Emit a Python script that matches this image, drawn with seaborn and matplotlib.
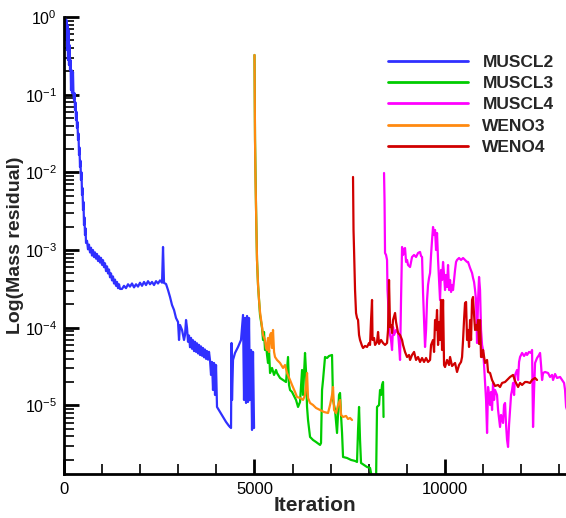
import numpy as np
import pandas as pd
import matplotlib
matplotlib.use("Agg")
import matplotlib.pyplot as plt
from matplotlib.ticker import FixedLocator, MultipleLocator, LogLocator, NullFormatter, FuncFormatter
from matplotlib.lines import Line2D
import seaborn as sns

# Convergence histories: iteration number and log10 of the mass residual
schemes = ["MUSCL2", "MUSCL3", "MUSCL4", "WENO3", "WENO4"]
colors = ["#3030ff", "#00cc00", "#ff00ff", "#ff8a10", "#d00000"]

muscl2_iter = [0, 26, 53, 66, 79, 92, 105, 118, 131, 144,
               158, 171, 184, 197, 210, 236, 249, 263, 276, 289,
               302, 315, 328, 341, 354, 368, 381, 394, 407, 420,
               433, 446, 460, 473, 486, 499, 512, 525, 538, 551,
               565, 578, 604, 630, 656, 683, 709, 735, 761, 788,
               814, 840, 866, 893, 919, 945, 971, 998, 1024, 1050,
               1076, 1103, 1129, 1155, 1181, 1208, 1234, 1260, 1286, 1313,
               1339, 1365, 1391, 1418, 1444, 1470,
               1522, 1575, 1627, 1680, 1733, 1785, 1838, 1890, 1943, 1995,
               2048, 2100, 2153, 2205, 2258, 2310, 2363, 2415, 2468, 2520,
               2573, 2599, 2625, 2678, 2730, 2783, 2835, 2888, 2940, 2993,
               3019, 3045, 3098, 3150, 3176, 3203, 3229, 3255, 3281, 3308,
               3334, 3360, 3386, 3413, 3439, 3465, 3491, 3518, 3544, 3570,
               3596, 3623, 3649, 3675, 3701, 3728, 3754, 3780, 3806, 3833,
               3859, 3885, 3911, 3938, 3964, 3990, 4016, 4095, 4174, 4253,
               4331, 4384, 4397, 4410, 4436, 4489, 4568, 4646, 4699, 4725,
               4751, 4778, 4804, 4830, 4856, 4883, 4909, 4935, 4961, 4988]
muscl2_log = [-0.02, 0.0, -0.296, -0.039, -0.425, -0.103, -0.553, -0.167, -0.618, -0.360,
              -0.682, -0.553, -0.940, -0.682, -0.978, -0.708, -1.004, -1.068, -0.98, -1.197,
              -1.10, -1.326, -1.22, -1.429, -1.35, -1.583, -1.50, -1.776, -1.68, -1.931,
              -1.85, -2.098, -2.00, -2.291, -2.20, -2.484, -2.38, -2.677, -2.58, -2.806,
              -2.72, -2.909, -2.88, -2.99, -2.93, -3.03, -2.97, -3.07, -3.00, -3.09,
              -3.03, -3.11, -3.05, -3.14, -3.08, -3.16, -3.10, -3.19, -3.13, -3.22,
              -3.17, -3.27, -3.21, -3.30, -3.25, -3.35, -3.30, -3.39, -3.34, -3.43,
              -3.38, -3.46, -3.41, -3.49, -3.44, -3.50,
              -3.500, -3.460, -3.490, -3.440, -3.470, -3.430, -3.480, -3.440, -3.470, -3.420,
              -3.460, -3.410, -3.450, -3.400, -3.440, -3.410, -3.450, -3.400, -3.430, -3.390,
              -3.420, -2.960, -3.423, -3.436, -3.514, -3.604, -3.707, -3.771, -3.874, -3.925,
              -4.157, -3.964, -4.028, -4.157, -4.093, -3.900, -4.003, -4.180, -4.100, -4.250,
              -4.130, -4.270, -4.160, -4.300, -4.180, -4.310, -4.200, -4.330, -4.220, -4.350,
              -4.240, -4.360, -4.260, -4.380, -4.280, -4.400, -4.300, -4.410, -4.310, -4.420,
              -4.607, -4.440, -4.801, -4.453, -4.865, -4.479, -5.019, -5.084, -5.148, -5.212,
              -5.264, -5.290, -4.196, -4.929, -4.414, -4.324, -4.247, -4.157, -3.835, -4.929,
              -3.874, -4.968, -3.848, -4.955, -3.874, -4.929, -4.286, -5.315, -4.311, -5.290]

muscl3_iter = [5000, 5014, 5040, 5066, 5093, 5119, 5145, 5198, 5224, 5250,
               5276, 5303, 5329, 5355, 5381, 5408, 5460, 5513, 5565, 5591,
               5670, 5749, 5828, 5880, 5906, 5933, 5985, 6038, 6090, 6143,
               6195, 6248, 6274, 6326, 6353, 6379, 6405, 6458, 6536, 6615,
               6720, 6746, 6773, 6799, 6851, 6904, 6956, 7035, 7061, 7114,
               7166, 7219, 7245, 7271, 7298, 7324, 7429, 7534, 7639, 7691,
               7718, 7744, 7770, 7796, 7875, 7954, 8033, 8111, 8190, 8216,
               8269, 8295, 8321, 8348, 8374, 8387]
muscl3_log = [-0.489, -1.583, -2.445, -3.127, -3.449, -3.642, -3.835, -4.003, -4.157, -4.054,
              -4.286, -4.221, -4.350, -4.453, -4.286, -4.582, -4.517, -4.607, -4.543, -4.582,
              -4.646, -4.672, -4.698, -4.376, -4.736, -4.801, -4.826, -4.878, -4.929, -5.019,
              -4.955, -4.543, -4.865, -4.324, -4.569, -5.019, -5.187, -5.405, -5.444, -5.470,
              -5.508, -5.483, -4.801, -4.672, -4.376, -4.389, -4.363, -4.350, -4.929, -5.058,
              -5.354, -4.865, -4.839, -5.122, -5.354, -5.663, -5.676, -5.701, -5.714, -5.727,
              -5.315, -5.019, -5.444, -5.740, -5.766, -5.792, -5.804, -6.0, -6.0, -5.019,
              -4.994, -4.801, -4.865, -4.736, -4.698, -5.148]

muscl4_iter = [8400, 8413, 8426, 8453, 8479, 8491, 8505, 8531, 8558, 8584,
               8610, 8636, 8663, 8715, 8768, 8794, 8820, 8846, 8873, 8899,
               8925, 8951, 8978, 9004, 9030, 9083, 9135, 9188, 9240, 9293,
               9345, 9371, 9398, 9424, 9450, 9476, 9503, 9529, 9555, 9581,
               9608, 9634, 9660, 9686, 9713, 9739, 9765, 9791, 9818, 9844,
               9870, 9896, 9923, 9949, 9975, 10001, 10028, 10054, 10080, 10106,
               10133, 10159, 10185, 10211, 10238, 10264, 10290, 10316, 10369, 10421,
               10474, 10526, 10579, 10605, 10658, 10710, 10736, 10763, 10789, 10815,
               10841, 10868, 10894, 10920, 10946, 10973, 10999, 11025, 11051, 11078,
               11104, 11130, 11156, 11183, 11209, 11235, 11261, 11288, 11314, 11366,
               11393, 11445, 11471, 11524, 11550, 11576, 11603, 11629, 11655, 11681,
               11708, 11734, 11760, 11786, 11813, 11839, 11891, 11918, 11944, 11970,
               11996, 12023, 12075, 12128, 12154, 12206, 12259, 12285, 12311, 12338,
               12364, 12416, 12469, 12495, 12521, 12548, 12574, 12626, 12705, 12758,
               12810, 12836, 12889, 12941, 13020, 13073, 13125, 13151, 13178, 13204]
muscl4_log = [-2.008, -2.355, -3.037, -3.063, -3.127, -3.514, -3.642, -4.028, -4.093, -4.157,
              -4.286, -3.990, -4.093, -4.028, -4.067, -4.221, -4.414, -3.642, -2.960, -3.063,
              -2.999, -2.973, -3.153, -3.127, -3.192, -3.218, -3.089, -3.063, -3.089, -3.037,
              -3.024, -3.076, -3.089, -3.552, -3.900, -4.247, -4.028, -3.642, -3.449, -3.359,
              -3.295, -3.063, -2.870, -2.703, -2.806, -2.741, -2.999, -2.780, -3.127, -3.385,
              -3.642, -3.256, -3.385, -3.153, -3.320, -3.514, -3.320, -3.475, -3.192, -3.514,
              -3.385, -3.539, -3.449, -3.514, -3.385, -3.256, -3.153, -3.127, -3.102, -3.127,
              -3.102, -3.127, -3.153, -3.153, -3.230, -3.295, -3.359, -3.411, -3.514, -3.642,
              -4.196, -3.642, -3.346, -3.514, -4.028, -4.221, -4.286, -4.479, -4.710, -4.929,
              -5.354, -4.762, -4.865, -4.994, -4.826, -5.058, -4.710, -4.929, -4.801, -4.865,
              -5.058, -5.277, -5.122, -5.225, -4.994, -4.968, -5.251, -5.444, -5.534, -5.251,
              -5.058, -4.865, -4.801, -4.710, -4.865, -4.607, -4.543, -4.672, -4.440, -4.376,
              -4.350, -4.324, -4.363, -4.324, -4.350, -4.311, -4.324, -4.286, -5.277, -4.801,
              -4.453, -4.389, -4.350, -4.324, -4.479, -4.672, -4.582, -4.569, -4.582, -4.633,
              -4.607, -4.672, -4.595, -4.646, -4.633, -4.672, -4.710, -4.801, -5.019, -5.058]

weno3_iter = [5000, 5007, 5014, 5027, 5040, 5053, 5066, 5093, 5119, 5145,
              5198, 5224, 5276, 5303, 5329, 5355, 5381, 5408, 5434, 5460,
              5486, 5513, 5539, 5591, 5670, 5749, 5801, 5854, 5933, 5985,
              6064, 6116, 6195, 6274, 6326, 6353, 6379, 6405, 6458, 6536,
              6615, 6720, 6825, 6930, 6983, 7035, 7061, 7088, 7140, 7193,
              7245, 7271, 7324, 7403, 7455, 7508, 7560]
weno3_log = [-0.489, -1.068, -1.583, -2.098, -2.445, -2.806, -3.127, -3.449, -3.642, -3.797,
             -3.990, -4.093, -4.157, -4.260, -4.286, -4.131, -4.311, -4.093, -4.067, -4.260,
             -4.028, -4.311, -4.376, -4.414, -4.453, -4.517, -4.479, -4.582, -4.672, -4.736,
             -4.826, -4.891, -4.903, -4.929, -4.865, -4.736, -4.582, -4.903, -4.968, -4.994,
             -5.032, -5.058, -5.084, -5.097, -4.994, -4.865, -4.762, -5.058, -5.097, -4.994,
             -4.929, -5.122, -5.148, -5.135, -5.174, -5.161, -5.187]

weno4_iter = [7586, 7599, 7613, 7639, 7665, 7691, 7718, 7744, 7770, 7823,
              7849, 7901, 7954, 8006, 8033, 8059, 8085, 8098, 8138, 8164,
              8216, 8243, 8269, 8321, 8374, 8426, 8479, 8505, 8531, 8558,
              8584, 8610, 8636, 8689, 8715, 8768, 8820, 8873, 8899, 8951,
              9004, 9056, 9083, 9135, 9188, 9240, 9293, 9345, 9398, 9450,
              9503, 9555, 9608, 9634, 9686, 9713, 9739, 9765, 9791, 9818,
              9844, 9870, 9896, 9923, 9949, 9975, 10001, 10054, 10106, 10133,
              10185, 10264, 10316, 10369, 10421, 10448, 10474, 10500, 10526, 10553,
              10579, 10605, 10631, 10658, 10684, 10710, 10736, 10763, 10789, 10815,
              10841, 10868, 10894, 10920, 10946, 10973, 10999, 11051, 11104, 11130,
              11183, 11235, 11261, 11314, 11393, 11445, 11498, 11576, 11629, 11708,
              11786, 11839, 11918, 11970, 12023, 12101, 12154, 12233, 12285, 12364,
              12416]
weno4_log = [-2.059, -2.741, -2.999, -3.514, -3.810, -3.874, -3.900, -4.093, -4.157, -4.234,
             -4.260, -4.234, -4.247, -4.196, -4.221, -3.900, -3.642, -4.157, -4.131, -4.221,
             -4.183, -4.054, -4.208, -4.157, -4.196, -4.221, -4.196, -4.028, -3.385, -3.990,
             -3.964, -4.067, -3.900, -3.810, -3.925, -4.067, -4.093, -4.157, -4.221, -4.311,
             -4.376, -4.350, -4.414, -4.350, -4.311, -4.414, -4.376, -4.440, -4.389, -4.440,
             -4.389, -4.440, -4.414, -4.221, -4.157, -4.311, -3.900, -4.028, -3.771, -4.221,
             -3.925, -4.157, -3.642, -4.286, -3.642, -4.479, -4.505, -4.414, -4.479, -4.376,
             -4.492, -4.453, -4.569, -4.479, -4.440, -4.376, -4.157, -3.900, -3.681, -3.668,
             -4.157, -4.028, -4.247, -3.900, -4.157, -3.642, -3.604, -3.835, -4.028, -3.964,
             -4.028, -3.900, -4.208, -3.900, -4.376, -4.376, -4.286, -4.453, -4.414, -4.569,
             -4.582, -4.672, -4.698, -4.749, -4.736, -4.762, -4.710, -4.698, -4.672, -4.633,
             -4.607, -4.685, -4.762, -4.710, -4.736, -4.698, -4.698, -4.710, -4.672, -4.646,
             -4.672]

series_iter = [muscl2_iter, muscl3_iter, muscl4_iter, weno3_iter, weno4_iter]
series_log = [muscl2_log, muscl3_log, muscl4_log, weno3_log, weno4_log]

frames = []
for name, its, logs in zip(schemes, series_iter, series_log):
    frames.append(pd.DataFrame({
        "Iteration": its,
        "Residual": np.power(10.0, logs),
        "Scheme": name,
    }))
df = pd.concat(frames, ignore_index=True)

sns.set_style("ticks")
plt.rcParams["font.family"] = ["Liberation Sans", "DejaVu Sans"]
plt.rcParams["mathtext.fontset"] = "custom"
plt.rcParams["mathtext.rm"] = "Liberation Sans"
plt.rcParams["axes.unicode_minus"] = False

fig = plt.figure(figsize=(5.66, 5.18), dpi=100)
ax = fig.add_axes([64 / 566, 44 / 518, 502 / 566, 457 / 518])

sns.lineplot(data=df, x="Iteration", y="Residual", hue="Scheme",
             hue_order=schemes, palette=dict(zip(schemes, colors)),
             estimator=None, sort=False, linewidth=1.6, legend=False, ax=ax)

ax.set_yscale("log")
ax.set_xlim(0, 13176)
ax.set_ylim(10 ** -5.882, 1.0)

ax.xaxis.set_major_locator(FixedLocator([0, 5000, 10000]))
ax.xaxis.set_minor_locator(MultipleLocator(1000))
ax.yaxis.set_major_locator(LogLocator(base=10, numticks=20))
ax.yaxis.set_minor_locator(LogLocator(base=10, subs=np.arange(2, 10), numticks=40))
ax.yaxis.set_minor_formatter(NullFormatter())
ax.yaxis.set_major_formatter(
    FuncFormatter(lambda v, pos: r"$\mathregular{10^{%d}}$" % int(round(np.log10(v)))))

for side in ("top", "right"):
    ax.spines[side].set_visible(False)
for side in ("left", "bottom"):
    ax.spines[side].set_linewidth(2.0)
    ax.spines[side].set_color("black")

ax.tick_params(which="major", direction="in", length=11, width=2.0,
               labelsize=12, colors="black", pad=6)
ax.tick_params(axis="y", which="major", labelsize=11.5, pad=5)
ax.tick_params(which="minor", direction="in", length=7, width=1.2, colors="black")
ax.tick_params(axis="x", which="major", pad=6)

ax.set_xlabel("Iteration", fontsize=15, fontweight="bold")
ax.set_ylabel("Log(Mass residual)", fontsize=14, fontweight="bold")
ax.xaxis.set_label_coords(0.5, -0.048)
ax.yaxis.set_label_coords(-0.080, 0.5)

handles = [Line2D([0], [0], color=c, lw=2.0) for c in colors]
ax.legend(handles, schemes, loc="upper left", bbox_to_anchor=(0.645, 0.918),
          frameon=False, prop={"weight": "bold", "size": 12.5},
          handlelength=4.6, handletextpad=0.85, labelspacing=0.36,
          borderpad=0, borderaxespad=0)

ax.grid(False)
fig.savefig("out.png", dpi=100)
